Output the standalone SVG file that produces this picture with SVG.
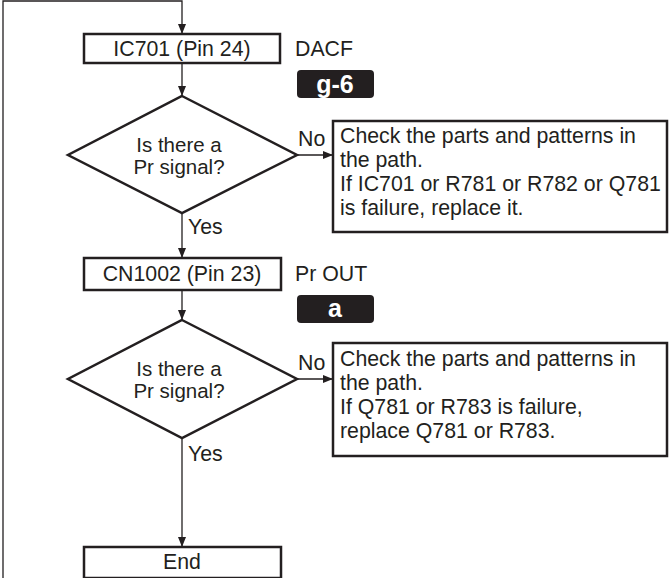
<svg xmlns="http://www.w3.org/2000/svg" width="670" height="578" viewBox="0 0 670 578">
<defs>
<marker id="arr" markerUnits="userSpaceOnUse" markerWidth="10" markerHeight="8" viewBox="0 0 10 8" refX="10" refY="4" orient="auto">
<path d="M0,0 L10,4 L0,8 z" fill="#231f20"/>
</marker>
<style>
.box{fill:#fff;stroke:#231f20;stroke-width:2.5}
.conn{fill:none;stroke:#231f20;stroke-width:1.3}
.t{font-family:"Liberation Sans",Arial,Helvetica,sans-serif;font-size:21.3px;fill:#231f20}
.d{font-size:20.5px}
.c{text-anchor:middle}
.badge{fill:#231f20}
.bt{font-family:"Liberation Sans",Arial,Helvetica,sans-serif;font-size:25px;font-weight:bold;fill:#fff;text-anchor:middle}
</style>
</defs>
<rect width="670" height="578" fill="#fff"/>
<g id="connectors">
<path class="conn" d="M3,578 V1 H182 V34" marker-end="url(#arr)"/>
<line class="conn" x1="182" y1="63" x2="182" y2="96" marker-end="url(#arr)"/>
<line class="conn" x1="297" y1="155" x2="333" y2="155" marker-end="url(#arr)"/>
<line class="conn" x1="182" y1="213" x2="182" y2="258" marker-end="url(#arr)"/>
<line class="conn" x1="182" y1="290" x2="182" y2="320" marker-end="url(#arr)"/>
<line class="conn" x1="297" y1="379" x2="333" y2="379" marker-end="url(#arr)"/>
<line class="conn" x1="182" y1="438" x2="182" y2="547" marker-end="url(#arr)"/>
<text class="t" x="298" y="146">No</text>
<text class="t" x="188" y="234">Yes</text>
<text class="t" x="298" y="370">No</text>
<text class="t" x="188" y="461">Yes</text>
</g>
<g id="ic701">
<rect class="box" x="84" y="34" width="196" height="29"/>
<text class="t c" x="182" y="56">IC701 (Pin 24)</text>
<text class="t" x="295" y="56">DACF</text>
<rect class="badge" x="297" y="70" width="77" height="28" rx="4"/>
<text class="bt" x="335" y="93">g-6</text>
</g>
<g id="dec1">
<polygon class="box" points="182,96 297,155 182,213 68,155"/>
<text class="t d c" x="179" y="152">Is there a</text>
<text class="t d c" x="179" y="174">Pr signal?</text>
</g>
<g id="check1">
<rect class="box" x="333" y="121" width="334" height="111"/>
<text class="t" x="340" y="143">Check the parts and patterns in</text>
<text class="t" x="340" y="167">the path.</text>
<text class="t" x="340" y="191">If IC701 or R781 or R782 or Q781</text>
<text class="t" x="340" y="215">is failure, replace it.</text>
</g>
<g id="cn1002">
<rect class="box" x="84" y="258" width="197" height="32"/>
<text class="t c" x="182" y="281">CN1002 (Pin 23)</text>
<text class="t" x="295" y="281">Pr OUT</text>
<rect class="badge" x="297" y="295" width="77" height="28" rx="4"/>
<text class="bt" x="335" y="317">a</text>
</g>
<g id="dec2">
<polygon class="box" points="182,320 297,379 182,438 68,379"/>
<text class="t d c" x="179" y="376">Is there a</text>
<text class="t d c" x="179" y="398">Pr signal?</text>
</g>
<g id="check2">
<rect class="box" x="333" y="343" width="334" height="113"/>
<text class="t" x="340" y="366">Check the parts and patterns in</text>
<text class="t" x="340" y="390">the path.</text>
<text class="t" x="340" y="414">If Q781 or R783 is failure,</text>
<text class="t" x="340" y="438">replace Q781 or R783.</text>
</g>
<g id="end">
<rect class="box" x="84" y="547" width="197" height="31"/>
<text class="t c" x="182" y="569">End</text>
</g>
</svg>
